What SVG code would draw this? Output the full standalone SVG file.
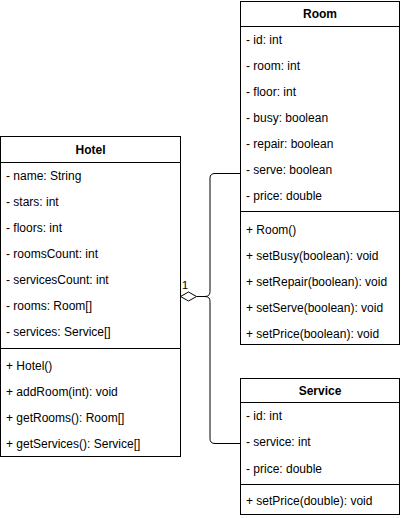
<svg xmlns="http://www.w3.org/2000/svg" width="401" height="518" viewBox="0 0 401 518">
<style>
.box{fill:#fff;stroke:#000;stroke-width:1}
.ln{stroke:#000;stroke-width:1;fill:none}
text{font-family:"Liberation Sans",Arial,Helvetica,sans-serif;font-size:12px;fill:#000}
.h{font-weight:bold;text-anchor:middle}
.lbl{font-size:11px}
</style>
<rect width="401" height="518" fill="#fff"/>
<g id="connectors">
<path class="ln" d="M196.5,296.5 H205 Q210,296.5 210,291.5 V178 Q210,173.5 215,173.5 H240.5"/>
<path class="ln" d="M205,296.5 Q210,296.5 210,301.5 V438.5 Q210,443.5 215,443.5 H240.5"/>
<polygon points="180.5,296.5 188.5,292 196.5,296.5 188.5,301" fill="#fff" stroke="#000" stroke-width="1"/>
<text class="lbl" x="182" y="289">1</text>
</g>
<g id="hotel">
<rect class="box" x="0.5" y="136.5" width="180" height="320"/>
<line class="ln" x1="0.5" y1="162.5" x2="180.5" y2="162.5"/>
<line class="ln" x1="0.5" y1="348.5" x2="180.5" y2="348.5"/>
<text class="h" x="90.5" y="153.5">Hotel</text>
<text x="6" y="179.5">- name: String</text>
<text x="6" y="205.5">- stars: int</text>
<text x="6" y="231.5">- floors: int</text>
<text x="6" y="257.5">- roomsCount: int</text>
<text x="6" y="283.5">- servicesCount: int</text>
<text x="6" y="309.5">- rooms: Room[]</text>
<text x="6" y="335.5">- services: Service[]</text>
<text x="6" y="369.5">+ Hotel()</text>
<text x="6" y="395.5">+ addRoom(int): void</text>
<text x="6" y="421.5">+ getRooms(): Room[]</text>
<text x="6" y="447.5">+ getServices(): Service[]</text>
</g>
<g id="room">
<rect class="box" x="240.5" y="1.5" width="159" height="343"/>
<line class="ln" x1="240.5" y1="26.5" x2="399.5" y2="26.5"/>
<line class="ln" x1="240.5" y1="211.5" x2="399.5" y2="211.5"/>
<text class="h" x="320" y="18">Room</text>
<text x="246" y="44">- id: int</text>
<text x="246" y="70">- room: int</text>
<text x="246" y="96">- floor: int</text>
<text x="246" y="122">- busy: boolean</text>
<text x="246" y="148">- repair: boolean</text>
<text x="246" y="174">- serve: boolean</text>
<text x="246" y="200">- price: double</text>
<text x="246" y="234">+ Room()</text>
<text x="246" y="260">+ setBusy(boolean): void</text>
<text x="246" y="286">+ setRepair(boolean): void</text>
<text x="246" y="312">+ setServe(boolean): void</text>
<text x="246" y="338">+ setPrice(boolean): void</text>
</g>
<g id="service">
<rect class="box" x="240.5" y="378.5" width="159" height="136"/>
<line class="ln" x1="240.5" y1="402.5" x2="399.5" y2="402.5"/>
<line class="ln" x1="240.5" y1="484.5" x2="399.5" y2="484.5"/>
<text class="h" x="320" y="394.5">Service</text>
<text x="246" y="420">- id: int</text>
<text x="246" y="446">- service: int</text>
<text x="246" y="472.5">- price: double</text>
<text x="246" y="505">+ setPrice(double): void</text>
</g>
</svg>
